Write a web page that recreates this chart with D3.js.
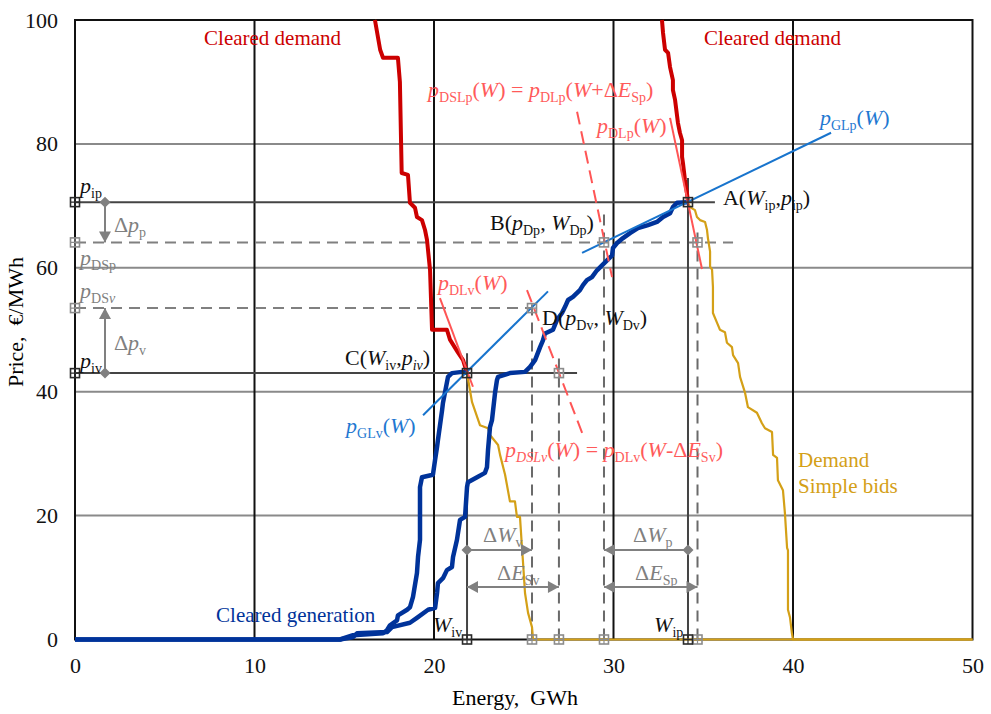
<!DOCTYPE html>
<html>
<head>
	<meta charset="utf-8">
	<title>clearing</title>
	<script type="text/javascript" src="https://cdn.jsdelivr.net/npm/d3@7"></script>
	<style>body{margin:0;background:#fff;}</style>
</head>
<body>
	<script type="text/javascript">
		var width = 991,
			height = 714;
		var serif = '"Liberation Serif", "Times New Roman", serif';

		// ---- data ----
		var xTicks = [0, 10, 20, 30, 40, 50];
		var yTicks = [0, 20, 40, 60, 80, 100];
		var xGrid = [10, 20, 30, 40];
		var yGrid = [20, 40, 60, 80];

		// cleared generation, valley hour (ends at C)
		var genValley = [[0,0],[14.76,0],[15.49,0.7],[17.16,1.0],[17.38,1.5],[17.55,2.3],[17.94,3.1],[17.99,3.9],
			[18.5,4.8],[18.66,5.2],[18.83,6.9],[19.05,10.7],[19.11,13.3],[19.22,16.1],[19.22,24.6],[19.33,26.2],
			[19.94,26.6],[20.06,29.0],[20.17,31.1],[20.22,32.2],[20.45,37.0],[20.5,38.2],[20.78,42.4],[21.0,43.0],
			[21.56,43.2],[21.84,43.0]];
		// cleared generation, peak hour (ends at A)
		var genPeak = [[0,0],[14.76,0],[15.49,0.4],[15.71,1.0],[17.38,1.2],[17.66,2.0],[18.66,2.7],[19.05,3.5],
			[19.67,4.8],[20.06,5.1],[20.17,7.5],[20.22,9.1],[20.5,9.9],[20.72,11.2],[21.0,11.7],[21.06,13.3],
			[21.28,16.1],[21.45,19.3],[21.73,19.8],[21.84,24.6],[21.89,25.4],[22.4,26.2],[22.84,26.9],[22.95,27.8],
			[23.01,30.6],[23.12,34.3],[23.23,35.4],[23.4,39.8],[23.51,41.9],[23.57,42.4],[24.23,43.0],[25.07,43.2],
			[25.35,44.0],[25.63,45.1],[25.91,47.2],[26.07,48.3],[26.18,49.4],[26.63,50.0],[26.85,51.6],[27.13,52.7],
			[27.3,53.7],[27.47,54.8],[27.74,55.3],[28.13,56.4],[28.3,57.2],[28.52,58.0],[28.8,58.5],[29.08,59.6],
			[29.36,60.4],[29.64,61.2],[29.92,62.0],[29.97,63.2],[30.2,64.0],[30.53,64.8],[30.92,65.6],[31.36,66.4],
			[31.92,66.9],[32.42,67.4],[32.76,68.2],[33.15,68.8],[33.31,69.8],[33.54,70.5],[34.15,70.6]];
		// demand, valley hour: cleared part, then remaining simple bids
		var demValleyCleared = [[16.71,100],[17.0,95.2],[17.16,93.9],[17.99,93.9],[18.1,90.0],[18.2,75.3],[18.55,75.0],
			[18.66,70.5],[18.94,69.7],[19.05,68.2],[19.33,67.7],[19.5,66.1],[19.61,64.5],[19.78,59.6],[19.89,50.0],
			[20.72,50.0],[20.89,48.4],[21.34,46.3],[21.62,45.1],[21.84,43.0]];
		var demValleyBids = [[21.84,43.0],[22.12,38.3],[22.56,34.6],[23.01,34.1],[23.12,33.0],[23.57,31.4],[23.68,29.8],
			[23.96,26.6],[24.23,22.3],[24.51,22.3],[24.62,19.8],[24.79,19.8],[24.9,14.9],[24.96,12.4],[25.07,7.5],
			[25.24,4.3],[25.46,2.0],[25.52,0],[50,0]];
		// demand, peak hour
		var demPeakCleared = [[32.7,100],[32.76,97.9],[32.87,95.2],[33.04,94.7],[33.15,92.4],[33.31,90.3],[33.31,88.7],
			[33.43,87.1],[33.59,83.4],[33.7,81.8],[33.82,80.6],[33.82,77.9],[33.87,76.9],[33.98,74.2],[34.09,72.1],
			[34.15,70.6]];
		var demPeakBids = [[34.15,70.6],[34.26,69.8],[34.54,69.3],[34.65,68.2],[34.82,67.7],[35.1,67.4],[35.21,66.1],
			[35.26,64.8],[35.38,62.6],[35.38,60.2],[35.49,59.7],[35.54,56.9],[35.54,52.7],[35.77,51.1],[35.93,50.0],
			[36.21,49.6],[36.32,47.9],[36.6,47.2],[36.66,45.9],[36.94,44.6],[37.05,42.4],[37.33,39.8],[37.49,37.5],
			[37.99,36.6],[38.27,34.9],[38.44,34.1],[38.83,33.5],[38.89,29.8],[39.11,29.3],[39.16,25.7],[39.44,24.1],
			[39.55,20.4],[39.67,14.8],[39.72,14.4],[39.72,4.8],[39.83,3.6],[39.94,1.0],[40.0,0],[50,0]];

		// key prices / energies
		var pip = 70.6, piv = 43.0, pDp = 64.1, pDv = 53.5;
		var Wip = 34.15, Wiv = 21.84, WDp = 29.47, WDv = 25.46, WSp = 34.68, WSv = 26.96;

		// tangent lines [from, to]
		var tanGLp = [[28.25,62.4],[42.12,81.8]];
		var tanGLv = [[19.39,36.2],[26.35,56.2]];
		var tanDLp = [[33.15,84.2],[34.93,59.8]];
		var tanDSLp = [[27.97,85.2],[29.92,58.5]];
		var tanDLv = [[20.33,55.1],[22.17,40.8]];
		var tanDSLv = [[25.18,56.4],[28.3,33.0]];

		// ---- scales ----
		var x = d3.scaleLinear().domain([0, 50]).range([75, 972.5]);
		var y = d3.scaleLinear().domain([0, 100]).range([639.5, 20]);

		var svg = d3.select('body')
					.append('svg')
					.attr('width', width)
					.attr('height', height)
					.style('font-family', serif);

		// grid
		svg.selectAll('.hgrid').data(yGrid).enter().append('line')
			.attr('x1', x(0)).attr('x2', x(50))
			.attr('y1', function(d){ return y(d); }).attr('y2', function(d){ return y(d); })
			.attr('stroke', '#8a8a8a').attr('stroke-width', 2);
		svg.selectAll('.vgrid').data(xGrid).enter().append('line')
			.attr('y1', y(0)).attr('y2', y(100))
			.attr('x1', function(d){ return x(d); }).attr('x2', function(d){ return x(d); })
			.attr('stroke', '#111').attr('stroke-width', 2);
		svg.append('rect')
			.attr('x', x(0)).attr('y', y(100))
			.attr('width', x(50) - x(0)).attr('height', y(0) - y(100))
			.attr('fill', 'none').attr('stroke', '#111').attr('stroke-width', 2);

		// axes
		var xAxis = svg.append('g').attr('transform', 'translate(0,' + y(0) + ')')
			.call(d3.axisBottom(x).tickValues(xTicks).tickSize(0).tickPadding(18));
		var yAxis = svg.append('g').attr('transform', 'translate(' + x(0) + ',0)')
			.call(d3.axisLeft(y).tickValues(yTicks).tickSize(0).tickPadding(17));
		[xAxis, yAxis].forEach(function(a){
			a.select('.domain').remove();
			a.selectAll('text').style('font-family', serif).style('font-size', '22px').attr('fill', '#111');
		});
		svg.append('text').attr('x', 515).attr('y', 705).attr('text-anchor', 'middle')
			.style('font-size', '22px').style('white-space', 'pre').text('Energy,  GWh');
		svg.append('text').attr('transform', 'translate(23,322) rotate(-90)').attr('text-anchor', 'middle')
			.style('font-size', '22px').style('white-space', 'pre').text('Price,  €/MWh');

		// reference lines
		function hline(v, x0, x1, color, dash){
			svg.append('line').attr('x1', x(x0)).attr('x2', x(x1)).attr('y1', y(v)).attr('y2', y(v))
				.attr('stroke', color).attr('stroke-width', 2).attr('stroke-dasharray', dash);
		}
		function vline(v, y0, y1, color, dash){
			svg.append('line').attr('x1', x(v)).attr('x2', x(v)).attr('y1', y(y0)).attr('y2', y(y1))
				.attr('stroke', color).attr('stroke-width', 2).attr('stroke-dasharray', dash);
		}
		hline(pip, 0, 35.65, '#444', null);
		hline(piv, 0, 27.97, '#444', null);
		hline(pDp, 0, 36.66, '#808080', '11,7');
		hline(pDv, 0, WDv, '#808080', '11,7');
		vline(Wip, 0, 74.5, '#444', null);
		vline(Wiv, 0, 46.2, '#444', null);
		vline(WDv, 0, 54.8, '#6a6a6a', '11,7');
		vline(WSv, 0, 45.4, '#6a6a6a', '11,7');
		vline(WDp, 0, 68.8, '#6a6a6a', '11,7');
		vline(WSp, 0, 66.0, '#6a6a6a', '11,7');

		// curves
		var line = d3.line().x(function(d){ return x(d[0]); }).y(function(d){ return y(d[1]); });
		function curve(data, color, w){
			svg.append('path').datum(data).attr('d', line)
				.attr('fill', 'none').attr('stroke', color).attr('stroke-width', w)
				.attr('stroke-linejoin', 'round');
		}
		curve(demValleyCleared.concat(demValleyBids), '#d4a017', 2.2);
		curve(demPeakCleared.concat(demPeakBids), '#d4a017', 2.2);
		curve(demValleyCleared, '#cc0000', 4);
		curve(demPeakCleared, '#cc0000', 4);
		curve(genValley, '#00339a', 4.5);
		curve(genPeak, '#00339a', 4.5);

		// tangents
		function seg(d, color, dash){
			svg.append('path').datum(d).attr('d', line).attr('fill', 'none')
				.attr('stroke', color).attr('stroke-width', 2).attr('stroke-dasharray', dash);
		}
		seg(tanGLp, '#1874cd', null);
		seg(tanGLv, '#1874cd', null);
		seg(tanDLp, '#ff5555', null);
		seg(tanDLv, '#ff5555', null);
		seg(tanDSLp, '#ff5555', '13,7');
		seg(tanDSLv, '#ff5555', '13,7');

		// square markers
		var blackMarks = [[0,pip],[0,piv],[Wiv,0],[Wip,0],[Wip,pip],[Wiv,piv]];
		var grayMarks = [[0,pDp],[0,pDv],[WDp,pDp],[WDv,pDv],[WSv,piv],[WSp,pDp],[WDv,0],[WSv,0],[WDp,0],[WSp,0]];
		function marks(list, color){
			var g = svg.selectAll(null).data(list).enter().append('g')
				.attr('transform', function(d){ return 'translate(' + x(d[0]) + ',' + y(d[1]) + ')'; });
			g.append('rect').attr('x', -4.5).attr('y', -4.5).attr('width', 9).attr('height', 9)
				.attr('fill', 'none').attr('stroke', color).attr('stroke-width', 1.6);
			g.append('path').attr('d', 'M-4.5,0H4.5M0,-4.5V4.5').attr('stroke', color).attr('stroke-width', 1.2);
		}
		marks(grayMarks, '#8c8c8c');
		marks(blackMarks, '#2a2a2a');

		// arrows
		var arrowColor = '#808080';
		function head(px, py, ang){
			var L = 11, H = 6;
			var c = Math.cos(ang), s = Math.sin(ang);
			var p = [[px, py], [px - L*c - H*s, py - L*s + H*c], [px - L*c + H*s, py - L*s - H*c]];
			svg.append('path').attr('d', 'M' + p.join('L') + 'Z').attr('fill', arrowColor);
		}
		function diamond(px, py){
			var r = 5.5;
			svg.append('path').attr('d', 'M' + px + ',' + (py - r) + 'L' + (px + r) + ',' + py + 'L' + px + ',' + (py + r) + 'L' + (px - r) + ',' + py + 'Z')
				.attr('fill', arrowColor);
		}
		function arrow(a, b, startType){
			var x1 = x(a[0]), y1 = y(a[1]), x2 = x(b[0]), y2 = y(b[1]);
			var ang = Math.atan2(y2 - y1, x2 - x1);
			svg.append('line').attr('x1', x1).attr('y1', y1).attr('x2', x2).attr('y2', y2)
				.attr('stroke', arrowColor).attr('stroke-width', 2);
			head(x2, y2, ang);
			if (startType === 'diamond') diamond(x1, y1);
			else head(x1, y1, ang + Math.PI);
		}
		var arrowX = 1.67, arrowW = 14.45, arrowE = 8.47;
		arrow([arrowX, pip], [arrowX, pDp], 'diamond');
		arrow([arrowX, piv], [arrowX, pDv], 'diamond');
		arrow([Wiv, arrowW], [WDv, arrowW], 'diamond');
		arrow([Wiv, arrowE], [WSv, arrowE], 'head');
		arrow([Wip, arrowW], [WDp, arrowW], 'diamond');
		arrow([WDp, arrowE], [WSp, arrowE], 'head');

		// text labels: parts [text, style]  r roman, i italic, s sub roman, si sub italic
		function label(pos, parts, color, size){
			size = size || 22;
			var t = svg.append('text').attr('x', x(pos[0])).attr('y', y(pos[1]))
				.attr('fill', color).style('font-size', size + 'px').style('white-space', 'pre');
			var sub = false;
			parts.forEach(function(p){
				var isSub = p[1].charAt(0) === 's';
				var ts = t.append('tspan').text(p[0]);
				if (p[1].indexOf('i') >= 0) ts.style('font-style', 'italic');
				if (isSub) ts.style('font-size', Math.round(size * 0.64) + 'px');
				if (isSub && !sub) ts.attr('dy', 5);
				if (!isSub && sub) ts.attr('dy', -5);
				sub = isSub;
			});
		}
		var black = '#111', gray = '#808080', salmon = '#ff5a5a', blue = '#1f78d1';

		label([7.19, 96.0], [['Cleared demand', 'r']], '#cc0000', 21);
		label([35.04, 96.0], [['Cleared demand', 'r']], '#cc0000', 21);
		label([7.86, 2.8], [['Cleared generation', 'r']], '#00339a', 21);
		label([40.28, 27.8], [['Demand', 'r']], '#d4a017', 21);
		label([40.28, 23.6], [['Simple bids', 'r']], '#d4a017', 21);

		label([0.28, 72.1], [['p','i'],['ip','s']], black);
		label([2.17, 65.8], [['Δ','r'],['p','i'],['p','s']], gray);
		label([0.28, 60.4], [['p','i'],['DSp','s']], gray);
		label([0.28, 55.1], [['p','i'],['DS','s'],['v','si']], gray);
		label([2.17, 46.7], [['Δ','r'],['p','i'],['v','s']], gray);
		label([0.28, 43.8], [['p','i'],['iv','s']], black);

		label([15.04, 44.3], [['C(','r'],['W','i'],['iv','s'],[',','r'],['p','i'],['iv','si'],[')','r']], black);
		label([15.1, 33.3], [['p','i'],['GLv','s'],['(','r'],['W','i'],[')','r']], blue);
		label([20.22, 56.4], [['p','i'],['DLv','s'],['(','r'],['W','i'],[')','r']], salmon);
		label([26.02, 50.8], [['D(','r'],['p','i'],['Dv','s'],[', ','r'],['W','i'],['Dv','s'],[')','r']], black);
		label([23.96, 29.5], [['p','i'],['DSLv','si'],['(','r'],['W','i'],[') = ','r'],['p','i'],['DLv','s'],['(','r'],['W','i'],['-Δ','r'],['E','i'],['Sv','s'],[')','r']], salmon);
		label([23.12, 66.1], [['B(','r'],['p','i'],['Dp','s'],[', ','r'],['W','i'],['Dp','s'],[')','r']], black);
		label([19.67, 87.6], [['p','i'],['DSLp','s'],['(','r'],['W','i'],[') = ','r'],['p','i'],['DLp','s'],['(','r'],['W','i'],['+Δ','r'],['E','i'],['Sp','s'],[')','r']], salmon);
		label([29.08, 81.8], [['p','i'],['DLp','s'],['(','r'],['W','i'],[')','r']], salmon);
		label([41.5, 83.1], [['p','i'],['GLp','s'],['(','r'],['W','i'],[')','r']], blue);
		label([36.1, 70.1], [['A(','r'],['W','i'],['ip','s'],[',','r'],['p','i'],['ip','s'],[')','r']], black);

		label([22.73, 15.7], [['Δ','r'],['W','i'],['v','s']], gray);
		label([23.51, 9.6], [['Δ','r'],['E','i'],['Sv','s']], gray);
		label([31.09, 15.7], [['Δ','r'],['W','i'],['p','s']], gray);
		label([31.2, 9.6], [['Δ','r'],['E','i'],['Sp','s']], gray);
		label([19.94, 1.2], [['W','i'],['iv','s']], black);
		label([32.26, 1.2], [['W','i'],['ip','s']], black);
	</script>
</body>
</html>
